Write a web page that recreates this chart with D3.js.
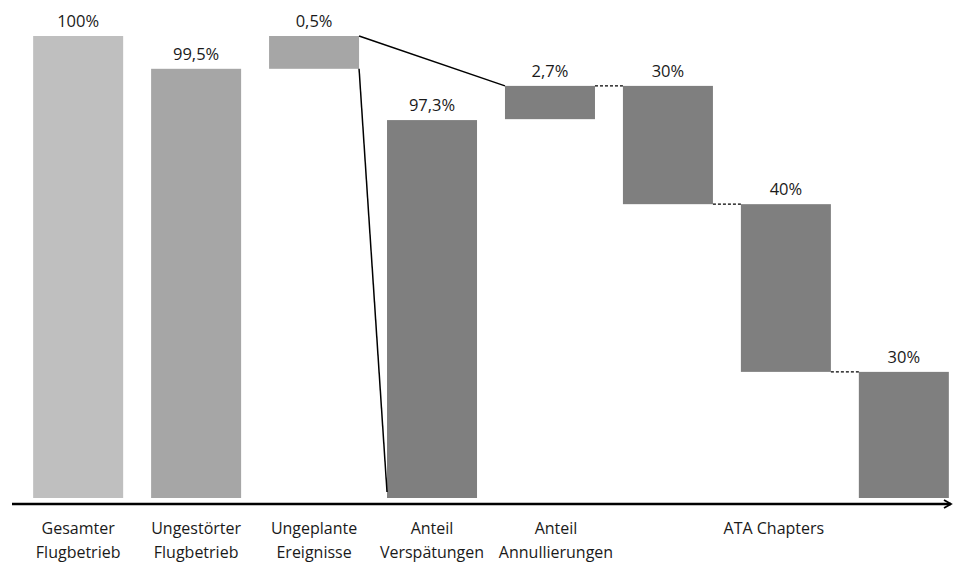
<!DOCTYPE html>
<html>
<head>
<meta charset="utf-8">
<script src="https://cdn.jsdelivr.net/npm/d3@7"></script>
<style>
  body { margin: 0; background: #fff; }
  svg { display: block; font-family: "Open Sans", "Noto Sans", sans-serif; }
  .val { font-size: 16.5px; fill: #1a1a1a; text-anchor: middle; }
  .cat { font-size: 16px; fill: #1a1a1a; text-anchor: middle; }
</style>
</head>
<body>
<svg class="js-chart"></svg>
<script>
/* global d3 */
// bars of the schematic waterfall, heights in display units (0..100 = chart height)
var bars = ["gesamt", "ungestoert", "ungeplant", "verspaet", "annull", "ata1", "ata2", "ata3"];
var barLabels = ["100%", "99,5%", "0,5%", "97,3%", "2,7%", "30%", "40%", "30%"];
var barBottom = [0, 0, 92.9, 0, 82.0, 63.6, 27.3, 0];
var barTop = [100, 92.9, 100, 81.8, 89.2, 89.2, 63.6, 27.3];
var barShade = ["light", "mid", "mid", "dark", "dark", "dark", "dark", "dark"];

// category labels below the axis, each covering one or more bars
var categories = [
    { lines: ["Gesamter", "Flugbetrieb"], from: "gesamt", to: "gesamt" },
    { lines: ["Ungestörter", "Flugbetrieb"], from: "ungestoert", to: "ungestoert" },
    { lines: ["Ungeplante", "Ereignisse"], from: "ungeplant", to: "ungeplant" },
    { lines: ["Anteil", "Verspätungen"], from: "verspaet", to: "verspaet" },
    { lines: ["Anteil", "Annullierungen"], from: "annull", to: "annull" },
    { lines: ["ATA Chapters"], from: "ata1", to: "ata3" }
];

var width = 956, height = 562;
var colors = { light: "#bfbfbf", mid: "#a6a6a6", dark: "#7f7f7f" };

var svg = d3.select(".js-chart").attr("width", width).attr("height", height);

var x = d3.scaleBand().domain(bars).range([19, 963]).paddingInner(0.237).paddingOuter(0.12);
var y = d3.scaleLinear().domain([0, 100]).range([498, 36]);

var data = bars.map(function (id, i) {
    return { id: id, label: barLabels[i], y0: barBottom[i], y1: barTop[i], shade: barShade[i] };
});
var byId = {};
data.forEach(function (d) { byId[d.id] = d; });

svg.append("defs").append("marker")
    .attr("id", "arrow")
    .attr("viewBox", "0 0 10 10")
    .attr("refX", 8).attr("refY", 5)
    .attr("markerWidth", 4).attr("markerHeight", 4)
    .attr("orient", "auto")
    .append("path")
        .attr("d", "M1,1 L8,5 L1,9")
        .attr("fill", "none")
        .attr("stroke", "#000")
        .attr("stroke-width", 1.8);

svg.selectAll(".bar").data(data)
    .enter().append("rect")
        .attr("class", "bar")
        .attr("x", function (d) { return x(d.id); })
        .attr("width", x.bandwidth())
        .attr("y", function (d) { return y(d.y1); })
        .attr("height", function (d) { return y(d.y0) - y(d.y1); })
        .attr("fill", function (d) { return colors[d.shade]; });

svg.selectAll(".val").data(data)
    .enter().append("text")
        .attr("class", "val")
        .attr("x", function (d) { return x(d.id) + x.bandwidth() / 2; })
        .attr("y", function (d) { return y(d.y1) - 9; })
        .text(function (d) { return d.label; });

// solid lines splitting the unplanned events
var src = byId.ungeplant;
var right = x(src.id) + x.bandwidth();
svg.append("line")
    .attr("x1", right).attr("y1", y(src.y1))
    .attr("x2", x("annull")).attr("y2", y(byId.annull.y1))
    .attr("stroke", "#000").attr("stroke-width", 1.5);
svg.append("line")
    .attr("x1", right).attr("y1", y(src.y0))
    .attr("x2", x("verspaet")).attr("y2", y(byId.verspaet.y0) - 6)
    .attr("stroke", "#000").attr("stroke-width", 1.5);

// dashed connectors between consecutive bars
var steps = [["annull", "ata1"], ["ata1", "ata2"], ["ata2", "ata3"]];
svg.selectAll(".conn").data(steps)
    .enter().append("line")
        .attr("class", "conn")
        .attr("x1", function (d) { return x(d[0]) + x.bandwidth(); })
        .attr("x2", function (d) { return x(d[1]); })
        .attr("y1", function (d) { return y(byId[d[1]].y1); })
        .attr("y2", function (d) { return y(byId[d[1]].y1); })
        .attr("stroke", "#000")
        .attr("stroke-width", 1.2)
        .attr("stroke-dasharray", "3,2");

// base axis with arrow
svg.append("line")
    .attr("x1", 12).attr("x2", 951)
    .attr("y1", y(0) + 6).attr("y2", y(0) + 6)
    .attr("stroke", "#000")
    .attr("stroke-width", 2.5)
    .attr("marker-end", "url(#arrow)");

var cats = svg.selectAll(".cat").data(categories)
    .enter().append("text")
        .attr("class", "cat")
        .attr("transform", function (d) {
            var cx = (x(d.from) + x(d.to) + x.bandwidth()) / 2;
            if (d.from !== d.to) cx -= 12;
            if (d.from === "annull") cx += 6;
            return "translate(" + cx + ",534)";
        });

cats.selectAll("tspan").data(function (d) { return d.lines; })
    .enter().append("tspan")
        .attr("x", 0)
        .attr("dy", function (d, i) { return i ? 24 : 0; })
        .text(String);
</script>
</body>
</html>
